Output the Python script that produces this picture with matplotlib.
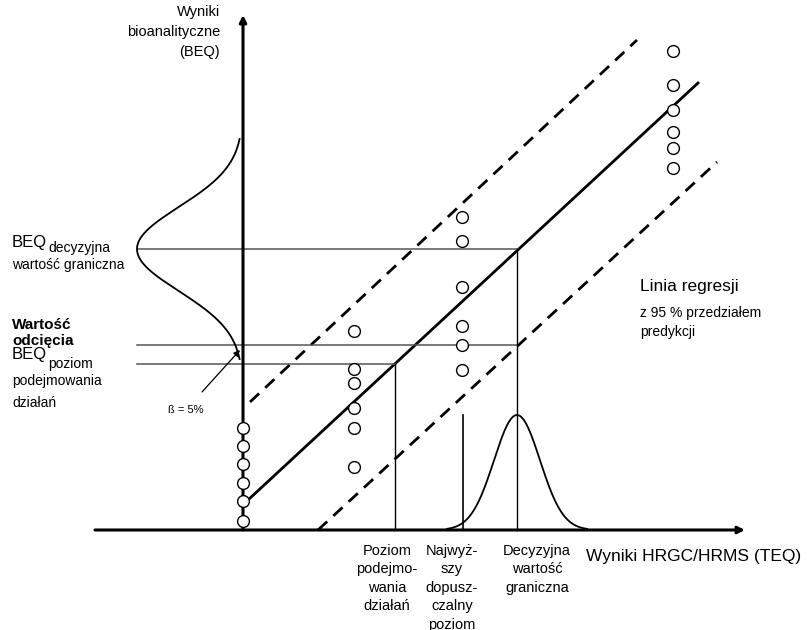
import numpy as np
import matplotlib.pyplot as plt

plt.rcParams['font.family'] = ['Liberation Sans', 'DejaVu Sans']

# schematic coordinates: origin where the two axes cross (units ~ pixels)
y_axis_top = 515
x_axis_left, x_axis_right = -148, 502

# regression line and 95 % prediction band (end points)
reg_x = [5, 455]
reg_y = [30, 447]
upper_x = [7, 394]
upper_y = [128, 490]
lower_x = [75, 474]
lower_y = [0, 368]

# levels
beq_decision = 281
beq_cutoff = 185
beq_action = 166
teq_action = 152
teq_max = 220
teq_max_top = 115
teq_decision = 274

# distribution of BEQ at the decision limit (drawn to the left of the y axis)
left_amp, left_sigma, left_span = 106, 42, 110
# distribution of TEQ at the decision limit
bottom_amp, bottom_sigma, bottom_span = 115, 23, 70

# measured samples: (TEQ column, BEQ values)
col_x = [0, 111, 219, 430]
col_y = [
    [102, 84, 66, 47, 29, 9],
    [199, 161, 147, 122, 102, 63],
    [313, 289, 243, 204, 185, 160],
    [479, 445, 420, 398, 382, 362],
]

bottom_labels = ['Poziom\npodejmo-\nwania\ndziałań',
                 'Najwyż-\nszy\ndopusz-\nczalny\npoziom',
                 'Decyzyjna\nwartość\ngraniczna']
bottom_label_x = [144, 209, 294]

fig = plt.figure(figsize=(8.08, 6.30), dpi=100)
ax = fig.add_axes([0, 0, 1, 1])
ax.set_xlim(-243, 565)
ax.set_ylim(-100, 530)
ax.axis('off')

# axes with arrow heads
ax.annotate('', xy=(0, y_axis_top), xytext=(0, 0),
            arrowprops=dict(arrowstyle='-|>', lw=2.2, color='black', mutation_scale=10,
                            shrinkA=0, shrinkB=0))
ax.annotate('', xy=(x_axis_right, 0), xytext=(x_axis_left, 0),
            arrowprops=dict(arrowstyle='-|>', lw=2.2, color='black', mutation_scale=10,
                            shrinkA=0, shrinkB=0))

# regression and prediction band
ax.plot(reg_x, reg_y, color='black', lw=2)
ax.plot(upper_x, upper_y, color='black', lw=2, ls=(0, (4.5, 3)))
ax.plot(lower_x, lower_y, color='black', lw=2, ls=(0, (4.5, 3)))

# horizontal guide lines
ax.plot([-left_amp, teq_decision], [beq_decision] * 2, color='#555555', lw=1.1)
ax.plot([-left_amp, teq_decision], [beq_cutoff] * 2, color='#555555', lw=1.1)
ax.plot([-left_amp, teq_action], [beq_action] * 2, color='#555555', lw=1.1)

# vertical guide lines
ax.plot([teq_decision, teq_decision], [0, beq_decision], color='black', lw=1)
ax.plot([teq_action, teq_action], [0, beq_action], color='black', lw=1)
ax.plot([teq_max, teq_max], [0, teq_max_top], color='black', lw=1.2)

# left gaussian
yy = np.linspace(beq_decision - left_span, beq_decision + left_span, 200)
xx = -left_amp * np.exp(-(yy - beq_decision) ** 2 / (2 * left_sigma ** 2))
ax.plot(xx, yy, color='black', lw=1.3)

# bottom gaussian
xb = np.linspace(teq_decision - bottom_span, teq_decision + bottom_span, 200)
yb = bottom_amp * np.exp(-(xb - teq_decision) ** 2 / (2 * bottom_sigma ** 2))
ax.plot(xb, yb, color='black', lw=1.3)

# samples
for cx, cy in zip(col_x, col_y):
    ax.plot([cx] * len(cy), cy, ls='none', marker='o', ms=8.5, mfc='white',
            mec='black', mew=1, zorder=5)

# beta arrow
ax.annotate('', xy=(-3, 180), xytext=(-41, 138),
            arrowprops=dict(arrowstyle='-|>', lw=0.9, color='black', mutation_scale=9,
                            shrinkA=0, shrinkB=0))
ax.text(-57, 120, 'ß = 5%', fontsize=8, ha='center', va='center')

# y axis title
ax.text(-23, 525, 'Wyniki\nbioanalityczne\n(BEQ)', fontsize=10.5, ha='right', va='top',
        linespacing=1.55)

# left annotations
ax.text(-231, 287, 'BEQ', fontsize=12, ha='left', va='center')
ax.text(-195, 282, 'decyzyjna', fontsize=10, ha='left', va='center')
ax.text(-231, 265, 'wartość graniczna', fontsize=10, ha='left', va='center')
ax.text(-231, 205, 'Wartość', fontsize=11, fontweight='bold', ha='left', va='center')
ax.text(-231, 189, 'odcięcia', fontsize=11, fontweight='bold', ha='left', va='center')
ax.text(-231, 175, 'BEQ', fontsize=12, ha='left', va='center')
ax.text(-195, 166, 'poziom', fontsize=10, ha='left', va='center')
ax.text(-231, 149, 'podejmowania', fontsize=10, ha='left', va='center')
ax.text(-231, 127, 'działań', fontsize=10, ha='left', va='center')

# regression legend
ax.text(397, 243, 'Linia regresji', fontsize=12.5, ha='left', va='center')
ax.text(397, 217, 'z 95 % przedziałem', fontsize=10, ha='left', va='center')
ax.text(397, 198, 'predykcji', fontsize=10, ha='left', va='center')

# x axis title and labels
ax.text(343, -27, 'Wyniki HRGC/HRMS (TEQ)', fontsize=12.5, ha='left', va='center')
for lab, lx in zip(bottom_labels, bottom_label_x):
    ax.text(lx, -14, lab, fontsize=10.5, ha='center', va='top', linespacing=1.4)

fig.savefig('out.png', dpi=100)
